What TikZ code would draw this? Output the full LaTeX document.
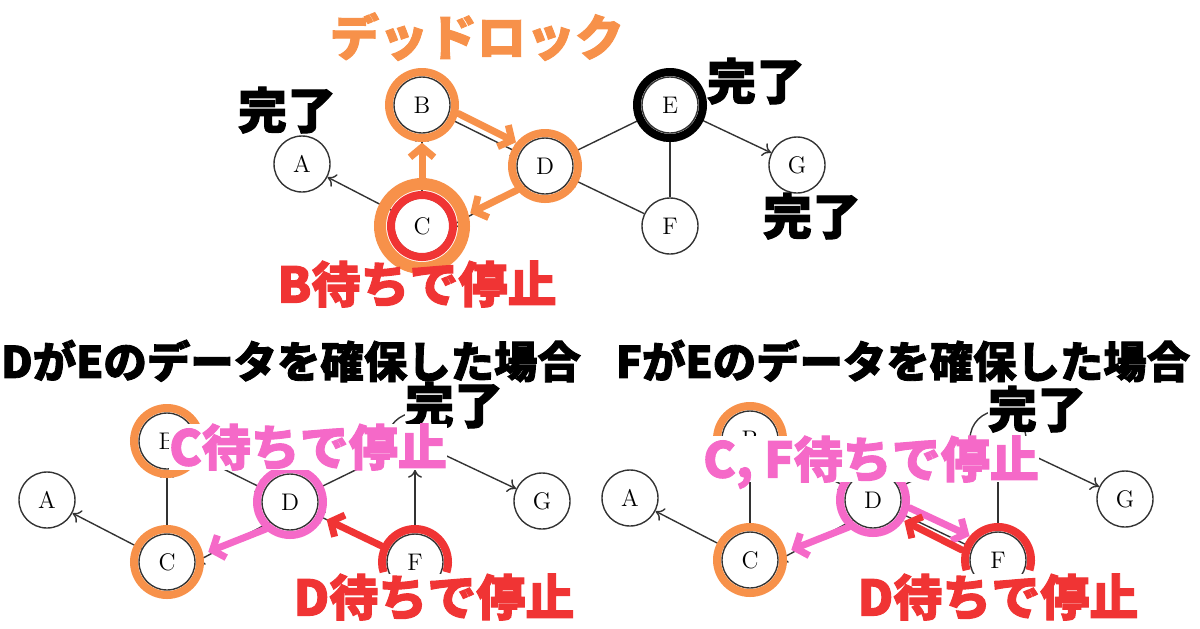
\documentclass[tikz,border=0pt]{standalone}
\usepackage{fontspec}
\newfontfamily\jp{Noto Sans CJK JP}[BoldFeatures={FakeBold=2}]
\usetikzlibrary{arrows.meta}
\definecolor{lockorange}{RGB}{247,145,74}
\definecolor{stopred}{RGB}{240,52,52}
\definecolor{waitpink}{RGB}{245,105,200}

\begin{document}
\begin{tikzpicture}
[x=0.5pt,y=-0.5pt,
  vertex/.style={shape=circle,draw=black!80,line width=0.7pt,minimum size=28pt,
    inner sep=0pt,font=\fontsize{12}{12}\selectfont},
  linedecorate/.style={draw=black!80,line width=0.7pt,-{To[length=4pt,width=7pt]}},
  ring/.style={draw=#1,line width=4pt},
  fatarrow/.style={draw=#1,line width=3.5pt,line cap=round,
    -{Straight Barb[length=5pt,width=12pt]},shorten <=4.5pt,shorten >=4.5pt},
  jplabel/.style={text=#1,inner sep=0pt,text height=20.6pt,text depth=2pt,
    font=\jp\bfseries\fontsize{24.5}{26}\selectfont},
  cover/.style={fill=white},
  jptitle/.style={text=black,inner sep=0pt,font=\jp\bfseries\fontsize{21.7}{24}\selectfont}]
\useasboundingbox (0,0) rectangle (1200,628);
%% nodes or vertices (one graph per case)
\foreach \g/\cx/\cy in {t/422/226, l/167/562, r/750/560}
{
  \foreach \n/\x/\y in {A/-120/-62, B/0/-121, C/0/0, D/123/-60, F/248/0, G/375/-61}
    \node (\g\n) at (\cx+\x,\cy+\y) [vertex] {\n};
}
\node (tE) at (670,105) [vertex] {E};
\node (lE) at (415,441) [vertex] {};
\node (rE) at (998,439) [vertex] {};
%% edges or lines
\foreach \g in {t,l,r}
{
  \foreach \startnode/\endnode in {C/A, C/B, B/D, D/E, E/G, F/E, F/D}
    \draw[linedecorate] (\g\startnode) -- (\g\endnode);
  \draw[linedecorate] (\g D.south west) -- (\g C.east);
}
%% rings
\foreach \n/\c in {tB/lockorange, tD/lockorange, lB/lockorange, lC/lockorange,
  rB/lockorange, rC/lockorange, lD/waitpink, rD/waitpink, tE/black}
  \draw[ring=\c] (\n.center) circle[radius=16.5pt];
\draw[ring=lockorange,line width=6pt] (tC.center) circle[radius=21pt];
\draw[ring=stopred] (tC.center) circle[radius=15.5pt];
\foreach \n in {lF, rF}
  \draw[ring=stopred] (\n.center) ++(-18:16.5pt) arc[start angle=-18,end angle=198,radius=16.5pt];
%% waiting arrows
\draw[fatarrow=lockorange,shorten <=8pt] (tC) -- (tB);
\draw[fatarrow=lockorange] (tB.-9) -- (tD.137);
\draw[fatarrow=lockorange,shorten >=11pt] (tD.south west) -- (tC.6);
\draw[fatarrow=waitpink,shorten >=7pt] (lD.236) -- (lC.10);
\draw[fatarrow=stopred,shorten >=6pt] (lF) -- (lD);
\draw[fatarrow=waitpink,shorten >=7pt] (rD.236) -- (rC.10);
\draw[fatarrow=waitpink] (rD.-8) -- (rF.135);
\draw[fatarrow=stopred] (rF.168) -- (rD.-36);
%% titles
\node (titleD) at (291,361) [jptitle] {DがEのデータを確保した場合};
\node (titleF) at (903,361) [jptitle] {FがEのデータを確保した場合};
%% labels
\node (deadlock) at (477,37) [jplabel=lockorange] {デッドロック};
\node (doneA) at (287,110) [jplabel=black] {完了};
\node (doneE) at (756,81) [jplabel=black] {完了};
\node (doneG) at (812,216) [jplabel=black] {完了};
\node (waitB) at (417,284) [jplabel=stopred] {B待ちで停止};
\node (doneL) at (454,405) [jplabel=black,cover] {完了};
\node (waitLC) at (308,447) [jplabel=waitpink,cover] {C待ちで停止};
\node (waitLD) at (434,597) [jplabel=stopred,cover] {D待ちで停止};
\node (doneR) at (1037,409) [jplabel=black,cover] {完了};
\node (waitRCF) at (871,459) [jplabel=waitpink,cover] {C, F待ちで停止};
\node (waitRD) at (998,597) [jplabel=stopred,cover] {D待ちで停止};
\end{tikzpicture}
\end{document}
